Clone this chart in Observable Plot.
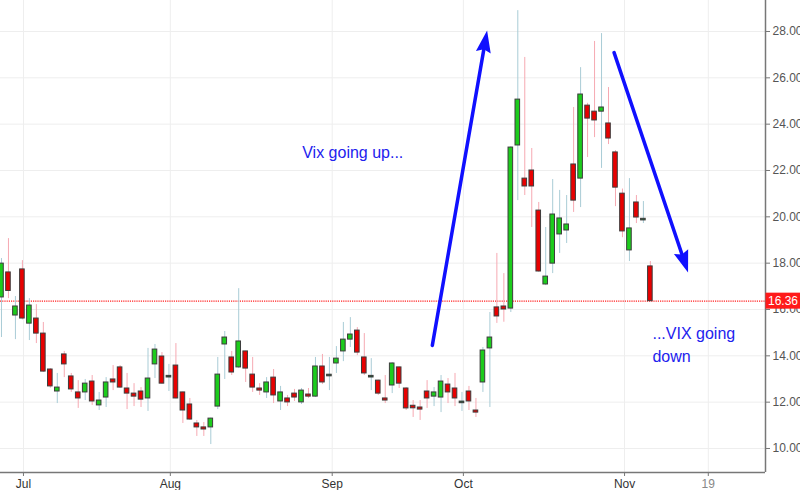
<!DOCTYPE html>
<html><head><meta charset="utf-8">
<script src="https://cdn.jsdelivr.net/npm/d3@7"></script>
<script src="https://cdn.jsdelivr.net/npm/@observablehq/plot@0.6"></script>
<style>body{margin:0;background:#fff;overflow:hidden}</style>
</head><body><div id="chart"></div>
<script>
// ---- data (trading-day index 0..93) ----
const opens  = [16.52,17.60,15.74,17.73,15.39,15.61,14.96,13.41,12.46,14.06,13.11,12.42,12.42,12.89,11.86,12.20,12.98,13.50,12.59,12.37,12.46,12.16,13.63,13.97,13.10,13.58,12.42,11.90,11.08,10.91,10.91,11.81,14.49,13.93,13.50,14.19,13.19,12.59,12.42,13.06,12.03,12.16,12.37,11.99,12.33,12.24,13.54,13.15,13.67,14.19,14.70,15.09,13.93,13.10,12.93,12.16,12.72,13.50,12.59,11.81,11.77,12.46,12.24,12.20,12.76,12.59,11.99,12.46,11.64,12.85,14.32,16.09,16.13,16.04,23.08,21.65,22.00,20.27,17.08,17.98,19.24,19.41,22.26,21.65,24.80,24.54,24.54,24.03,22.78,21.00,18.55,20.62,19.88,17.86];
const highs  = [18.20,19.06,16.56,18.11,16.47,16.21,15.44,13.45,13.24,14.19,13.24,12.93,12.98,13.15,12.42,13.06,13.58,13.58,13.24,12.80,12.63,14.32,14.49,14.14,13.63,14.53,12.44,12.16,11.21,11.12,11.31,13.93,15.05,14.19,16.90,14.20,13.93,12.80,13.06,13.41,12.68,12.29,12.55,12.59,12.59,13.93,14.06,13.93,14.40,15.44,15.65,15.22,14.96,13.88,12.95,13.15,13.71,13.52,12.63,12.07,12.07,12.93,12.63,13.15,13.02,13.24,12.42,12.68,12.16,14.36,15.87,18.42,17.55,23.03,28.90,26.88,22.95,20.62,19.54,21.61,21.14,20.92,24.72,26.44,24.90,27.57,27.91,25.58,22.86,21.20,21.65,20.92,20.66,18.07];
const lows   = [14.79,16.47,14.70,15.55,14.66,14.53,13.28,12.60,11.94,13.06,12.42,11.73,12.07,11.86,11.64,11.77,12.50,12.59,11.68,11.81,11.77,11.60,13.02,12.78,12.46,12.14,11.08,11.21,10.52,10.52,10.17,11.68,12.98,13.15,13.45,12.85,12.42,12.29,12.16,11.94,11.64,11.81,12.03,11.90,12.16,12.20,12.76,12.50,13.24,13.75,14.36,14.01,13.15,12.50,12.29,11.94,12.37,12.59,11.64,11.34,11.21,11.73,11.81,11.55,11.94,11.81,11.60,11.64,11.34,12.42,11.77,15.40,15.45,15.87,20.70,20.92,19.54,17.60,17.03,17.55,18.42,18.85,20.19,20.40,22.56,23.42,22.09,23.12,20.44,19.10,18.07,19.71,19.71,16.36];
const closes = [17.98,16.80,16.13,15.61,16.17,14.96,13.32,12.68,12.63,13.63,12.55,12.16,12.80,12.03,12.07,12.85,12.85,12.63,12.37,12.24,12.11,13.02,14.27,12.80,13.10,12.16,11.64,11.25,10.91,10.82,11.29,13.19,14.79,13.28,14.62,13.45,12.63,12.50,12.85,12.29,12.42,11.99,12.20,12.50,12.24,13.54,12.85,13.15,13.88,14.70,14.92,14.14,13.24,13.10,12.37,12.07,13.67,12.80,11.73,11.77,11.68,12.16,12.42,12.89,12.42,12.16,11.99,12.03,11.55,14.23,14.79,15.70,16.00,22.99,25.06,21.31,21.31,17.64,17.42,20.10,19.93,19.67,20.70,25.28,24.24,24.16,24.72,23.38,21.26,19.37,19.50,19.97,19.88,16.36];

const xTickPos    = [3.15, 24.2, 47.4, 66.2, 89.3, 101.3];
const xTickLabels = ["Jul", "Aug", "Sep", "Oct", "Nov", "19"];
const yTicks      = [10, 12, 14, 16, 18, 20, 22, 24, 26, 28];
const lastPrice   = 16.36;

const noteTexts = ["Vix going up...", "...VIX going\ndown"];
const noteX     = [43.1, 93.3];
const noteY     = [22.86, 14.55];

const arrowX1 = [61.75, 87.8];
const arrowY1 = [14.45, 27.09];
const arrowX2 = [69.6, 98.4];
const arrowY2 = [28.04, 17.60];

// ---- build tables ----
const xDomain = [-0.14, 109.5], yDomain = [8.964, 29.338];
const W = 800, H = 490, mL = 0, mR = 35, mT = 0, mB = 18;
const pxX = (W - mL - mR) / (xDomain[1] - xDomain[0]);
const pxY = (H - mT - mB) / (yDomain[1] - yDomain[0]);

const candles = opens.map((o, i) => ({i, o, h: highs[i], l: lows[i], c: closes[i],
  kind: Math.abs(o - closes[i]) < 0.005 ? "doji" : (closes[i] > o ? "up" : "down")}));
const ticks = xTickPos.map((p, k) => ({p, label: xTickLabels[k]}));
const notes = noteTexts.map((t, k) => ({t, x: noteX[k], y: noteY[k]}));
const arrows = arrowX1.map((x1, k) => {
  const x2 = arrowX2[k], y1 = arrowY1[k], y2 = arrowY2[k];
  const ang = Math.atan2((x2 - x1) * pxX, (y2 - y1) * pxY) * 180 / Math.PI;
  return {x1, y1, x2, y2, ang};
});

// filled arrow head, tip at origin, pointing up
const headSymbol = {draw(ctx) { ctx.moveTo(0, 0); ctx.lineTo(7.5, 22); ctx.lineTo(0, 19); ctx.lineTo(-7.5, 22); ctx.closePath(); }};

const bodyFill = {up: "#1ccc1c", down: "#e80000", doji: "#1e5a30"};
const wickCol  = {up: "#a9ccd6", down: "#f6a9b2", doji: "#a9ccd6"};
const minHalf = 0.035;

const plot = Plot.plot({
  width: W, height: H,
  marginLeft: mL, marginRight: mR, marginTop: mT, marginBottom: mB,
  style: {fontFamily: "'Liberation Sans', Arial, sans-serif", background: "#fff", overflow: "visible"},
  x: {type: "linear", domain: xDomain},
  y: {domain: yDomain},
  marks: [
    Plot.gridY(yTicks, {stroke: "#eeeeee", strokeOpacity: 1}),
    Plot.gridX(xTickPos, {stroke: "#eeeeee", strokeOpacity: 1}),
    Plot.ruleY([lastPrice], {stroke: "#ff2020", strokeDasharray: "1.2,1", strokeWidth: 1.2}),
    Plot.ruleX(candles, {x: "i", y1: "l", y2: "h", stroke: d => wickCol[d.kind], strokeWidth: 1}),
    Plot.rect(candles, {
      x1: d => d.i - 0.33, x2: d => d.i + 0.33,
      y1: d => Math.min(d.o, d.c) - (Math.abs(d.o - d.c) < 2 * minHalf ? minHalf : 0),
      y2: d => Math.max(d.o, d.c) + (Math.abs(d.o - d.c) < 2 * minHalf ? minHalf : 0),
      fill: d => bodyFill[d.kind], stroke: "#3c3c3c", strokeWidth: 1
    }),
    Plot.axisY(yTicks, {anchor: "right", tickSize: 4, tickPadding: 3, tickFormat: d3.format(".2f"),
      fontSize: 12, fill: "#555", stroke: "#777", label: null}),
    Plot.axisX(ticks.filter(d => d.label !== "19").map(d => d.p), {anchor: "bottom", tickSize: 4, tickPadding: 3,
      tickFormat: p => ticks.find(d => d.p === p).label, fontSize: 12, fill: "#333", stroke: "#777", label: null}),
    Plot.axisX(ticks.filter(d => d.label === "19").map(d => d.p), {anchor: "bottom", tickSize: 4, tickPadding: 3,
      tickFormat: p => ticks.find(d => d.p === p).label, fontSize: 12, fill: "#888", stroke: "#777", label: null}),
    Plot.ruleY([yDomain[0]], {stroke: "#777", strokeWidth: 1.5}),
    Plot.ruleX([xDomain[1]], {stroke: "#777", strokeWidth: 1.5}),
    Plot.arrow(arrows, {x1: "x1", y1: "y1", x2: "x2", y2: "y2", stroke: "#1010ff", strokeWidth: 3.5,
      headLength: 0, insetEnd: 14}),
    Plot.dot(arrows, {x: "x2", y: "y2", symbol: headSymbol, rotate: "ang", fill: "#1010ff", stroke: "none", r: 5}),
    Plot.text(notes, {x: "x", y: "y", text: "t", textAnchor: "start", fontSize: 16, fill: "#2222ee", lineHeight: 1.44})
  ]
});
document.getElementById("chart").appendChild(plot);

// last-price label box on the right axis
const svg = d3.select(plot);
const yPix = plot.scale("y").apply(lastPrice);
const xPix = plot.scale("x").apply(xDomain[1]);
const g = svg.append("g");
g.append("rect").attr("x", xPix + 0.5).attr("y", yPix - 8).attr("width", W - xPix).attr("height", 16).attr("fill", "#ff1a1a");
g.append("text").attr("x", xPix + 3).attr("y", yPix).attr("dy", "0.35em").attr("fill", "#fff")
  .attr("text-anchor", "start")
  .attr("font-size", 12).attr("font-family", "'Liberation Sans', Arial, sans-serif").text(lastPrice.toFixed(2));
</script>
</body></html>
